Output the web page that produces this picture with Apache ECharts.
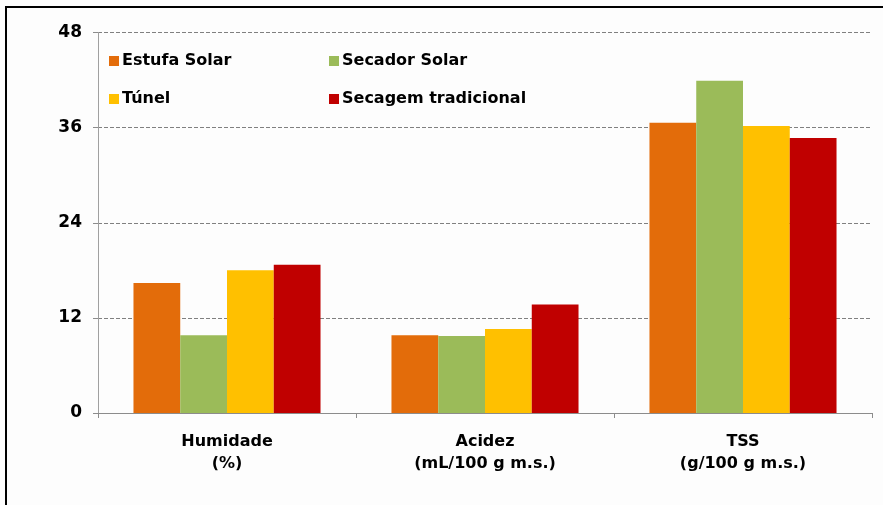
<!DOCTYPE html>
<html>
<head>
<meta charset="utf-8">
<script src="https://cdn.jsdelivr.net/npm/echarts@6/dist/echarts.min.js"></script>
<style>
  html, body { margin: 0; padding: 0; background: #fdfdfd; }
  #chart { width: 883px; height: 505px; }
</style>
</head>
<body>
<div id="chart"></div>
<script>
// Categories and measured values per drying method
const categories = ['Humidade\n(%)', 'Acidez\n(mL/100 g m.s.)', 'TSS\n(g/100 g m.s.)'];
const seriesNames = ['Estufa Solar', 'Secador Solar', 'Túnel', 'Secagem tradicional'];
const estufaSolar = [16.4, 9.8, 36.6];
const secadorSolar = [9.8, 9.7, 41.9];
const tunel = [18.0, 10.6, 36.2];
const secagemTradicional = [18.7, 13.7, 34.7];
const yTicks = [0, 12, 24, 36, 48];

const colors = ['#e36c0a', '#9bbb59', '#ffc000', '#c00000'];
const values = [estufaSolar, secadorSolar, tunel, secagemTradicional];
const font = 'DejaVu Sans, Verdana, sans-serif';

const chart = echarts.init(document.getElementById('chart'));

const legendPos = [
  { left: 104, top: 48 },
  { left: 324, top: 48 },
  { left: 104, top: 86 },
  { left: 324, top: 86 }
];

chart.setOption({
  backgroundColor: '#fdfdfd',
  animation: false,
  grid: { left: 98, right: 11, top: 32.5, bottom: 92 },
  legend: seriesNames.map((name, i) => ({
    data: [name],
    left: legendPos[i].left,
    top: legendPos[i].top,
    icon: 'rect',
    itemWidth: 10,
    itemHeight: 10,
    itemGap: 3,
    textStyle: { fontFamily: font, fontWeight: 'bold', fontSize: 16, color: '#000', padding: [0, 0, 0, -2] }
  })),
  xAxis: {
    type: 'category',
    data: categories,
    axisLine: { lineStyle: { color: '#8c8c8c', width: 1 } },
    axisTick: { show: true, length: 5, lineStyle: { color: '#8c8c8c' } },
    axisLabel: {
      fontFamily: font, fontWeight: 'bold', fontSize: 16, color: '#000',
      lineHeight: 22, margin: 18
    }
  },
  yAxis: {
    type: 'value',
    min: 0, max: 48, interval: 12,
    axisLine: { show: true, lineStyle: { color: '#a0a0a0' } },
    axisTick: { show: true, length: 5, lineStyle: { color: '#8c8c8c' } },
    axisLabel: {
      fontFamily: font, fontWeight: 'bold', fontSize: 17, color: '#000', margin: 16,
      formatter: v => (yTicks.includes(v) ? String(v) : '')
    },
    splitLine: { show: true, lineStyle: { color: '#808080', type: [4, 2], width: 1 } }
  },
  series: seriesNames.map((name, i) => ({
    name,
    type: 'bar',
    data: values[i],
    barGap: '0%',
    barCategoryGap: '27.5%',
    itemStyle: { color: colors[i] }
  })),
  graphic: [
    { type: 'rect', shape: { x: 5, y: 6, width: 2, height: 499 }, style: { fill: '#000' } },
    { type: 'rect', shape: { x: 5, y: 6, width: 878, height: 2 }, style: { fill: '#000' } }
  ]
});
</script>
</body>
</html>
